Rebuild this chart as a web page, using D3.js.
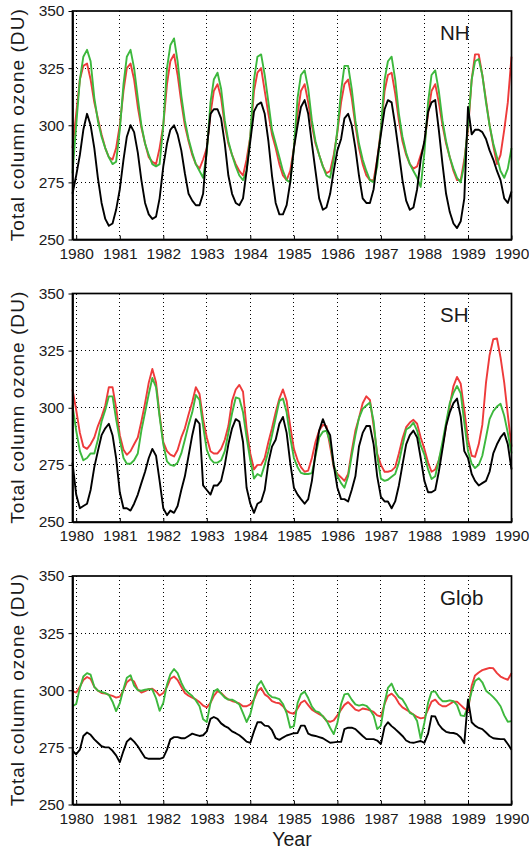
<!DOCTYPE html>
<html>

<head>
  <title>Total column ozone</title>
  <script src="https://cdn.jsdelivr.net/npm/d3@7"></script>
  <style type="text/css">
    body {
      margin: 0;
      background: #fff;
    }

    svg text {
      font-family: "Liberation Sans", Arial, sans-serif;
      fill: #1a1a1a;
    }

    .grid line {
      stroke: #000;
      stroke-width: 1;
      stroke-dasharray: 1, 3;
      shape-rendering: crispEdges;
    }

    .series {
      fill: none;
      stroke-width: 1.9;
      stroke-linejoin: round;
    }
  </style>
</head>

<body>
  <div id="chartArea"></div>
  <script type="text/javascript">
    // monthly values, Dec 1979 ... Jan 1990 (one row per year)
    let nhBlack = [270,
      278, 287, 298, 305, 300, 290, 277, 266, 259, 256, 257, 263,
      272, 285, 295, 300, 297, 288, 276, 266, 261, 259, 260, 268,
      282, 292, 298, 300, 296, 289, 279, 270, 267, 265, 265, 270,
      290, 305, 307, 307, 303, 292, 278, 270, 266, 265, 268, 280,
      293, 306, 309, 310, 305, 293, 278, 266, 261, 261, 265, 275,
      290, 300, 308, 311, 305, 292, 280, 268, 263, 264, 270, 280,
      289, 294, 303, 305, 300, 290, 278, 268, 266, 266, 272, 285,
      296, 307, 311, 310, 300, 288, 276, 267, 263, 264, 272, 285,
      293, 306, 310, 311, 298, 283, 270, 262, 257, 255, 258, 268,
      308, 296, 298, 298, 297, 294, 289, 285, 280, 276, 268, 266,
      271];
    let nhRed = [290,
      305, 320, 326, 327, 320, 310, 303, 296, 290, 286, 285, 290,
      300, 315, 325, 327, 320, 308, 299, 292, 286, 284, 283, 290,
      300, 318, 328, 331, 322, 310, 300, 293, 287, 283, 281, 285,
      290, 305, 315, 318, 312, 300, 292, 287, 283, 280, 278, 285,
      295, 315, 323, 325, 315, 305, 296, 290, 283, 278, 276, 280,
      290, 305, 315, 318, 310, 300, 292, 287, 282, 279, 280, 287,
      297, 310, 318, 320, 312, 300, 290, 283, 278, 276, 276, 285,
      298, 315, 322, 323, 314, 302, 293, 287, 283, 281, 282, 287,
      292, 305, 315, 318, 310, 300, 292, 286, 280, 276, 276, 285,
      298, 320, 331, 331, 322, 311, 300, 291, 283, 287, 298, 310,
      330];
    let nhGreen = [279,
      300, 320, 330, 333, 328, 312, 302, 295, 290, 286, 283, 284,
      298, 318, 330, 333, 325, 312, 300, 292, 287, 283, 282, 283,
      300, 325, 335, 338, 328, 313, 302, 294, 288, 283, 280, 277,
      288, 310, 320, 323, 316, 302, 293, 287, 282, 278, 276, 280,
      295, 320, 330, 331, 322, 310, 298, 292, 286, 280, 276, 275,
      290, 312, 322, 324, 316, 302, 293, 287, 282, 278, 277, 285,
      298, 315, 326, 326, 316, 302, 292, 285, 280, 276, 275, 282,
      298, 320, 328, 330, 320, 305, 295, 288, 283, 280, 277, 273,
      288, 310, 322, 324, 315, 302, 293, 286, 281, 277, 275, 283,
      300, 320, 328, 329, 322, 310, 300, 292, 286, 280, 277, 281,
      290];

    let shBlack = [276,
      262, 256, 257, 258, 264, 274, 281, 288, 291, 293, 288, 278,
      263, 256, 256, 255, 258, 262, 267, 272, 278, 282, 279, 268,
      256, 253, 255, 254, 257, 264, 270, 279, 288, 295, 293, 266,
      264, 262, 266, 266, 268, 275, 284, 291, 295, 294, 285, 265,
      258, 254, 258, 259, 264, 276, 283, 286, 293, 296, 289, 276,
      265, 262, 260, 258, 260, 268, 280, 290, 295, 291, 288, 275,
      265, 260, 260, 259, 264, 270, 283, 289, 292, 292, 284, 270,
      261, 259, 259, 256, 259, 266, 275, 284, 288, 290, 287, 278,
      268, 263, 263, 264, 272, 282, 292, 298, 302, 304, 296, 281,
      278, 271, 268, 266, 267, 268, 272, 280, 284, 287, 289, 284,
      273];
    let shRed = [308,
      299, 289, 283, 282, 284, 287, 292, 296, 301, 309, 309, 300,
      288, 281.6, 279.4, 281, 284, 287, 294, 302, 311, 317, 311, 297,
      285, 281, 279.5, 278.7, 281.5, 287, 291, 297, 302.5, 309, 306, 295,
      287, 281, 280, 280, 282, 286, 292, 303, 308, 310, 307, 291,
      280, 273, 275, 275, 278, 285, 291, 298, 304, 308, 303, 292,
      282, 277, 274, 272, 272.5, 278, 285, 290, 292.5, 292, 283, 274,
      271, 269.5, 268, 271, 281, 290, 295.5, 302, 305, 303.4, 292, 280,
      275, 272, 272, 272.5, 274, 280, 286.5, 291.5, 293.5, 294.7, 293, 287,
      282, 276, 272, 273, 277, 283, 292, 301, 309.5, 313.5, 310.5, 299,
      286, 279, 278.5, 284, 292.5, 311, 323, 330, 330.3, 322, 311, 297,
      283];
    let shGreen = [301,
      290, 281, 277, 278, 280, 280, 286, 294, 299, 305, 305, 295,
      286, 278, 275.5, 275.5, 277, 280, 290, 298, 306, 313, 309, 296,
      284, 276.5, 275, 274.6, 276, 280, 286, 292.5, 298, 305.6, 303.4, 292,
      281.6, 277.5, 276, 276, 277, 281, 289, 297.6, 304.5, 304, 298, 287,
      277, 269, 271, 270, 275, 281, 288, 295.5, 303, 304, 298, 287,
      278, 274, 271.5, 271, 271, 271.4, 278.7, 287, 289.5, 290, 285, 275,
      270, 267, 265, 270, 279, 288, 295.5, 299.5, 301, 302.3, 294, 279,
      269, 268, 268.5, 269.8, 271, 276, 283.5, 290.5, 291.5, 293.5, 290, 283.5,
      279.5, 273, 268.8, 270, 277, 285, 293.5, 302, 306.5, 309.5, 306.3, 293.5,
      281, 275.5, 273.6, 275, 279, 287, 295, 298.5, 300.5, 301.7, 296.5, 289,
      280];

    let globBlack = [273.5,
      272, 274, 280, 281.5, 280.5, 278.5, 277, 275.5, 275, 275, 273.5, 271.5,
      268.5, 273.5, 277.5, 279, 277.5, 275.5, 273, 270.5, 270, 270, 270, 270,
      270.5, 274, 278.5, 279.5, 279.5, 279, 279, 280, 281, 280.5, 280, 280.3,
      282, 287.5, 288.3, 287.5, 285.5, 284.3, 283.5, 282, 281.2, 280.3, 279, 277.5,
      277, 282, 286, 286, 284.5, 284.3, 282.5, 279, 278.3, 279.3, 280.2, 280.7,
      281.2, 281.3, 284.5, 284.5, 281, 280.3, 280, 279.5, 279, 278, 277, 277.2,
      277.4, 277.4, 283, 283.6, 283.6, 283, 281.5, 280, 278.6, 278.6, 278.6, 278,
      276.5, 284, 286, 284.3, 283, 281.5, 280, 278, 277.2, 277, 277.4, 277.8,
      277, 281, 288.7, 288.5, 285, 283, 281.8, 281.4, 281.3, 280.8, 279.3, 276.8,
      296, 286, 284.5, 283.5, 283, 281.5, 280, 279, 278.8, 278.6, 278.6, 276.5,
      274];
    let globRed = [299.6,
      299, 301.5, 304.5, 305.8, 305, 301.5, 299.8, 298.8, 298.6, 298, 297.5, 296.8,
      297.2, 300, 303.5, 304.8, 303.8, 300.3, 299, 299.6, 300.5, 300.7, 299.5, 297.7,
      298.8, 301.5, 305, 306, 304.5, 301.5, 298.8, 297.6, 296.8, 296, 294.8, 293.3,
      292.5, 294.5, 297.5, 299.6, 298.8, 297.2, 296, 295.3, 294.8, 294.2, 293, 293,
      293.8, 296, 299.5, 301, 298.2, 297, 295.2, 294.6, 294.3, 293, 291, 290.1,
      289.7, 292, 294.5, 295.5, 293.5, 291.5, 290.5, 289.5, 288.7, 286.6, 286.2, 286.8,
      289, 291.5, 293.6, 294.8, 293.2, 291.5, 291, 292, 291.7, 291.2, 290.5, 289,
      288.5, 294, 297.5, 298.5, 297, 294.3, 292.5, 291.5, 290.5, 289.4, 288.3, 287.7,
      288, 291.5, 295, 295.9, 294, 293, 293, 294, 295, 295, 293.5, 292,
      291, 302, 306.5, 307.8, 308.8, 309.3, 309.8, 309.6, 307.5, 306, 305.2, 304.6,
      307.5];
    let globGreen = [293,
      294, 301, 306, 307.5, 306.8, 301.5, 299.8, 299.3, 298.7, 298, 295, 290.9,
      294.3, 300.5, 305.5, 306.6, 302, 300, 299.8, 300.2, 300.5, 300.3, 296.5, 291,
      294.5, 302.5, 307, 309.3, 307.5, 303.3, 300.3, 298.8, 297.5, 295.5, 293, 287.3,
      286.1, 294.5, 299.5, 300.5, 298.5, 296.8, 295.9, 295.9, 295, 293.8, 290, 286.1,
      289.5, 296, 302, 304, 301, 298.3, 297, 296.7, 296.1, 294, 290, 283.6,
      284.3, 294.5, 298.2, 299.4, 296.6, 292.8, 290.9, 290.3, 288.6, 286.8, 283.6, 280.8,
      285.8, 294, 298.2, 298.5, 295.9, 293.8, 293.3, 293.7, 293.2, 291.6, 289, 283,
      284.5, 294.5, 301, 302.9, 299.3, 297, 296, 293.3, 290.1, 289.3, 286.5, 278.8,
      285.8, 294.5, 299.3, 299.5, 296.9, 295.2, 295.2, 295.6, 295.2, 293.5, 289, 288.7,
      293, 299.5, 304, 305.3, 303.5, 299.8, 298.5, 297, 295.2, 293, 289, 286.2,
      286.5];

    let months = d3.timeMonth.range(new Date(1979, 11, 1), new Date(1990, 1, 1));
    let years = d3.range(1980, 1991);
    let yTicks = [250, 275, 300, 325, 350];
    let yGrid = [275, 300, 325];
    let panelNames = ['NH', 'SH', 'Glob'];
    let panelSeries = [
      [nhRed, nhGreen, nhBlack],
      [shRed, shGreen, shBlack],
      [globRed, globGreen, globBlack]
    ];
    let lineColors = ['#ee3b3b', '#3db83d', '#000'];

    let width = 529, height = 851;
    let left = 72.5, right = 511.5;
    let panelTops = [11, 293.5, 576];
    let panelH = 228.5;

    // snap 1px dotted lines to pixel centres so the dots stay dark
    let crisp = v => Math.round(v - 0.5) + 0.5;

    let svg = d3.select('#chartArea').append('svg')
      .attr('width', width)
      .attr('height', height)
      .style('display', 'block');

    let x = d3.scaleTime()
      .domain(d3.extent(months))
      .range([left, right]);

    panelNames.forEach((name, i) => {
      let top = panelTops[i];
      let bottom = top + panelH;
      let y = d3.scaleLinear()
        .domain([250, 350])
        .range([bottom, top]);

      let g = svg.append('g');

      // dotted grid
      let grid = g.append('g').attr('class', 'grid');
      grid.selectAll('line.v')
        .data(years.slice(0, -1))
        .enter()
        .append('line')
        .attr('class', 'v')
        .attr('x1', d => crisp(x(new Date(d, 0, 1))))
        .attr('x2', d => crisp(x(new Date(d, 0, 1))))
        .attr('y1', top)
        .attr('y2', bottom);
      grid.selectAll('line.h')
        .data(yGrid)
        .enter()
        .append('line')
        .attr('class', 'h')
        .attr('x1', left)
        .attr('x2', right)
        .attr('y1', d => crisp(y(d)))
        .attr('y2', d => crisp(y(d)));

      let line = d3.line()
        .x((d, j) => x(months[j]))
        .y(d => y(d));

      g.selectAll('path.series')
        .data(panelSeries[i])
        .enter()
        .append('path')
        .attr('class', 'series')
        .attr('d', line)
        .attr('stroke', (d, j) => lineColors[j]);

      g.append('rect')
        .attr('x', left)
        .attr('y', top)
        .attr('width', right - left)
        .attr('height', panelH)
        .attr('fill', 'none')
        .attr('stroke', '#000')
        .attr('stroke-width', 1.7);

      let yAxis = g.append('g')
        .attr('transform', `translate(${left}, 0)`)
        .call(d3.axisLeft(y).tickValues(yTicks).tickSize(4).tickSizeOuter(0).tickPadding(4));
      yAxis.select('.domain').attr('stroke-width', 1.7);
      yAxis.selectAll('text')
        .attr('font-size', '15.5px')
        .attr('font-family', '"Liberation Sans", Arial, sans-serif')
        .attr('fill', '#111');

      let xAxis = g.append('g')
        .attr('transform', `translate(0, ${bottom})`)
        .call(d3.axisBottom(x)
          .tickValues(years.map(d => new Date(d, 0, 1)))
          .tickSizeInner(-4)
          .tickSizeOuter(0)
          .tickPadding(8)
          .tickFormat(d3.timeFormat('%Y')));
      xAxis.select('.domain').attr('stroke-width', 1.7);
      xAxis.selectAll('text')
        .attr('font-size', '15.5px')
        .attr('font-family', '"Liberation Sans", Arial, sans-serif')
        .attr('fill', '#111');

      svg.append('text')
        .attr('transform', `translate(24, ${top + panelH / 2}) rotate(-90)`)
        .attr('text-anchor', 'middle')
        .attr('font-size', '19px')
        .attr('textLength', 232)
        .attr('lengthAdjust', 'spacing')
        .attr('fill', '#222')
        .text('Total column ozone (DU)');

      svg.append('text')
        .attr('x', 440)
        .attr('y', top + 28.5)
        .attr('font-size', '20.5px')
        .attr('fill', '#222')
        .text(name);
    });

    svg.append('text')
      .attr('x', 292)
      .attr('y', 846)
      .attr('text-anchor', 'middle')
      .attr('font-size', '19.5px')
      .attr('fill', '#222')
      .text('Year');
  </script>
</body>

</html>
